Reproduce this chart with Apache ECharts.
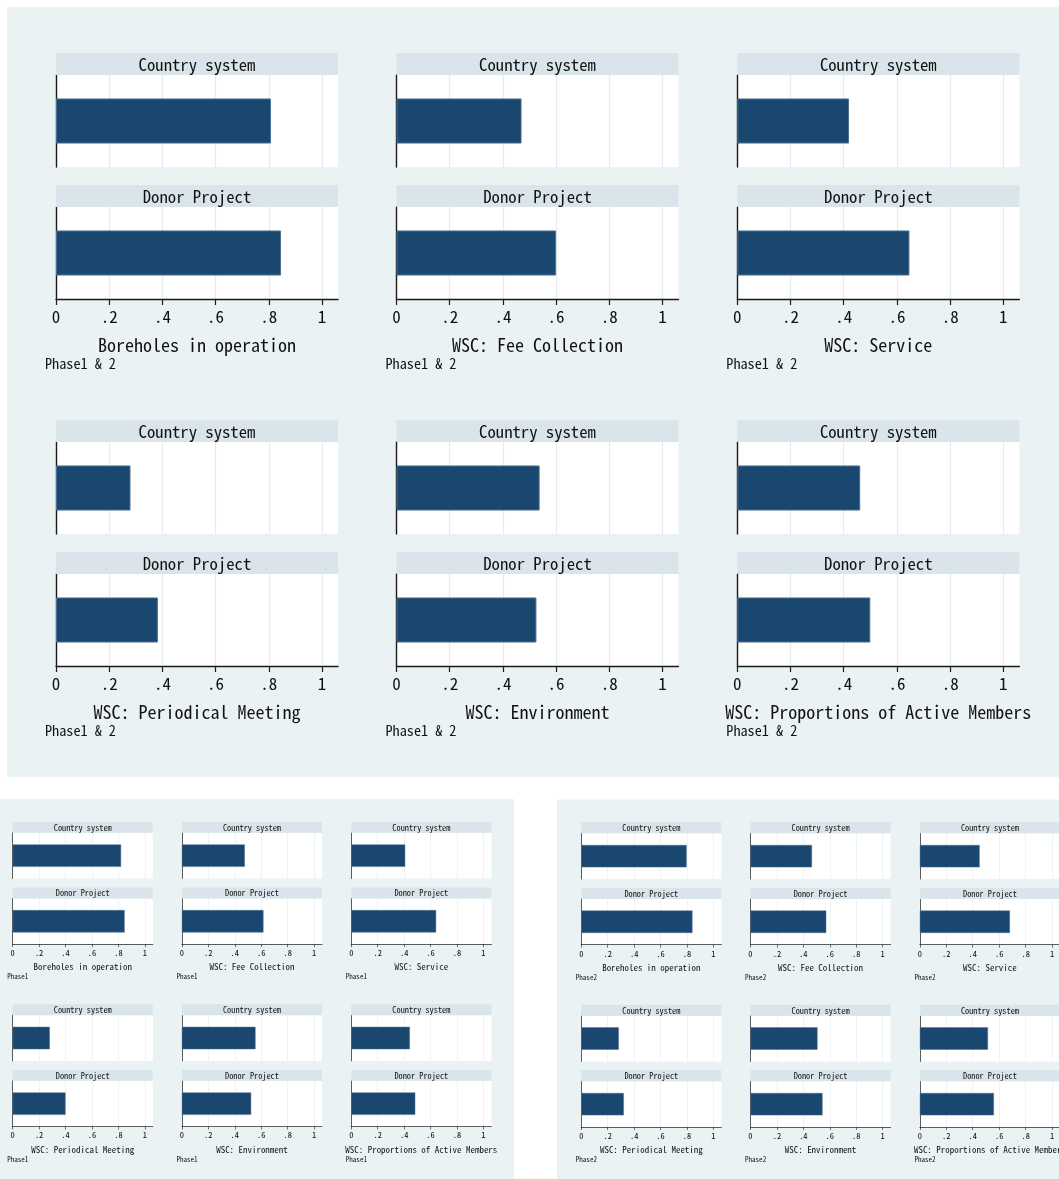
<!DOCTYPE html>
<html>
<head>
<meta charset="utf-8">
<script src="https://cdn.jsdelivr.net/npm/echarts@6/dist/echarts.min.js"></script>
<style>
  html, body { margin: 0; padding: 0; background: #ffffff; }
  #chart { width: 1059px; height: 1179px; }
</style>
</head>
<body>
<div id="chart"></div>
<script>
// Indicators, one small-multiple per indicator (2 rows x 3 columns)
const measures = [
  'Boreholes in operation',
  'WSC: Fee Collection',
  'WSC: Service',
  'WSC: Periodical Meeting',
  'WSC: Environment',
  'WSC: Proportions of Active Members'
];
const facets = ['Country system', 'Donor Project'];
const tickValues = [0, 0.2, 0.4, 0.6, 0.8, 1];
const tickLabels = ['0', '.2', '.4', '.6', '.8', '1'];
const phaseNotes = ['Phase1 & 2', 'Phase1', 'Phase2'];

// Share of sites, by implementation modality
const bothCountry = [0.808, 0.470, 0.420, 0.280, 0.538, 0.462];
const bothDonor   = [0.846, 0.600, 0.647, 0.383, 0.526, 0.500];
const p1Country   = [0.820, 0.476, 0.408, 0.281, 0.557, 0.443];
const p1Donor     = [0.847, 0.617, 0.642, 0.400, 0.524, 0.484];
const p2Country   = [0.797, 0.465, 0.452, 0.284, 0.507, 0.515];
const p2Donor     = [0.841, 0.573, 0.681, 0.322, 0.545, 0.560];

// Layout of one combined graph at full size; smaller graphs are scaled copies
const FONT = "'Noto Sans Mono CJK JP','Noto Sans Mono CJK SC','DejaVu Sans Mono',monospace";
const COL_X = [49, 389.5, 730.3];
const ROW_Y = [46, 413];
const PLOT_W = 282, PLOT_H = 92, STRIP_H = 22, FACET_STEP = 132;
const PANEL_W = 1058, PANEL_H = 770;
const X_MAX = 1.06;

const panels = [
  { note: phaseNotes[0], values: [bothCountry, bothDonor], x: 7, y: 7, s: 1 },
  { note: phaseNotes[1], values: [p1Country, p1Donor], x: -11.7, y: 799, s: 0.497 },
  { note: phaseNotes[2], values: [p2Country, p2Donor], x: 556.9, y: 799.5, s: 0.497 }
];

const C = {
  panelBg: '#eaf2f3',
  strip: '#d9e5ea',
  grid: '#e3ecee',
  axis: '#1a1a1a',
  bar: '#1a476f',
  barEdge: '#4d7091',
  text: '#111111'
};

function tickText(v) {
  for (let i = 0; i < tickValues.length; i++) {
    if (Math.abs(v - tickValues[i]) < 1e-9) return tickLabels[i];
  }
  return '';
}

const grids = [], xAxes = [], yAxes = [], series = [], graphics = [];

panels.forEach(function (p) {
  const s = p.s;
  graphics.push({
    type: 'rect', z: -100, silent: true,
    shape: { x: p.x, y: p.y, width: PANEL_W * s, height: PANEL_H * s },
    style: { fill: C.panelBg }
  });
  measures.forEach(function (name, m) {
    const row = Math.floor(m / 3), col = m % 3;
    const left = p.x + s * COL_X[col];
    facets.forEach(function (facet, f) {
      const stripTop = p.y + s * (ROW_Y[row] + f * FACET_STEP);
      const top = stripTop + s * STRIP_H;
      const gi = grids.length;
      const bottomFacet = f === facets.length - 1;
      grids.push({
        left: left, top: top, width: PLOT_W * s, height: PLOT_H * s,
        show: true, backgroundColor: '#ffffff', borderWidth: 0,
        containLabel: false, outerBoundsMode: 'none'
      });
      xAxes.push({
        gridIndex: gi, type: 'value', min: 0, max: X_MAX,
        axisLine: { show: bottomFacet, onZero: false, lineStyle: { color: C.axis, width: 1.4 * s } },
        axisTick: { show: bottomFacet, customValues: tickValues, length: 6 * s, lineStyle: { color: C.axis, width: 1.2 * s } },
        axisLabel: {
          show: bottomFacet, customValues: tickValues, formatter: tickText,
          margin: 9 * s, fontSize: 17 * s, color: C.text, fontFamily: FONT
        },
        splitLine: { show: true, lineStyle: { color: C.grid, width: 1.2 * s } },
        name: bottomFacet ? name : '',
        nameLocation: 'middle', nameGap: 37 * s,
        nameTextStyle: { fontSize: 18 * s, color: C.text, fontFamily: FONT }
      });
      yAxes.push({
        gridIndex: gi, type: 'category', data: [facet],
        axisLine: { show: true, onZero: false, lineStyle: { color: C.axis, width: 1.4 * s } },
        axisTick: { show: false }, axisLabel: { show: false }, splitLine: { show: false }
      });
      series.push({
        type: 'bar', xAxisIndex: gi, yAxisIndex: gi, silent: true,
        data: [p.values[f][m]], barWidth: '49%',
        itemStyle: { color: C.bar, borderColor: C.barEdge, borderWidth: s }
      });
      // facet strip
      graphics.push({
        type: 'rect', z: 1, silent: true,
        shape: { x: left, y: stripTop, width: PLOT_W * s, height: STRIP_H * s },
        style: { fill: C.strip }
      });
      graphics.push({
        type: 'text', z: 2, silent: true,
        x: left + PLOT_W * s / 2, y: stripTop + STRIP_H * s / 2 + 0.5 * s,
        style: { text: facet, fill: C.text, font: (16.7 * s) + 'px ' + FONT, align: 'center', verticalAlign: 'middle' }
      });
      if (bottomFacet) {
        graphics.push({
          type: 'text', z: 2, silent: true,
          x: left - 11 * s, y: top + PLOT_H * s + 65 * s,
          style: { text: p.note, fill: C.text, font: (14.2 * s) + 'px ' + FONT, align: 'left', verticalAlign: 'middle' }
        });
      }
    });
  });
});

const chart = echarts.init(document.getElementById('chart'), null, { renderer: 'canvas' });
chart.setOption({
  animation: false,
  backgroundColor: '#ffffff',
  textStyle: { fontFamily: FONT },
  grid: grids,
  xAxis: xAxes,
  yAxis: yAxes,
  series: series,
  graphic: graphics
});
</script>
</body>
</html>
